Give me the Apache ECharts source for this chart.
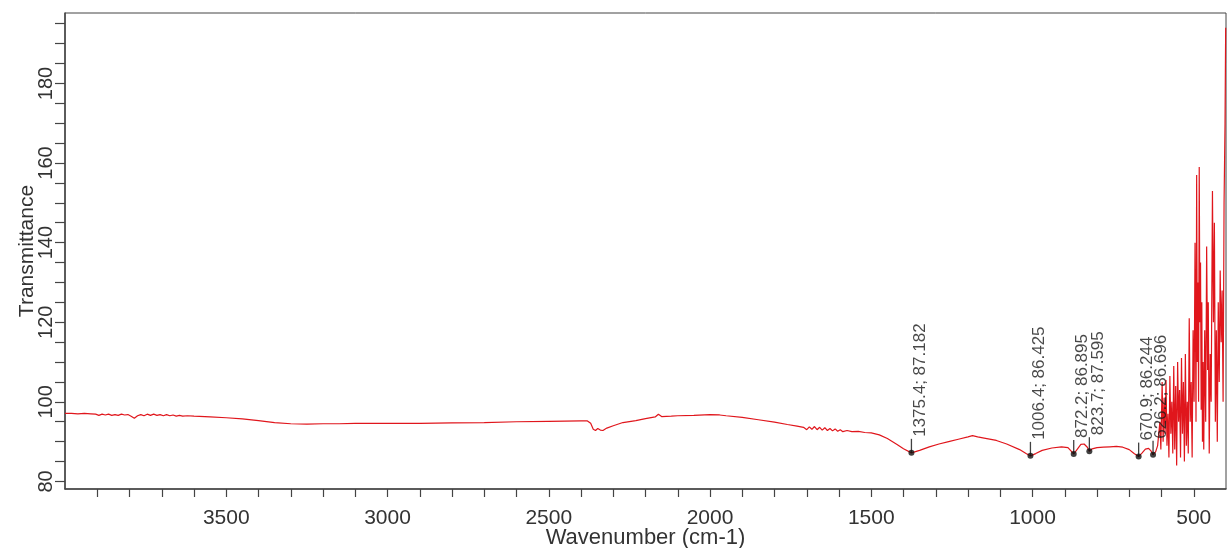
<!DOCTYPE html>
<html><head><meta charset="utf-8">
<script src="https://cdn.jsdelivr.net/npm/echarts@6/dist/echarts.min.js"></script>
<style>html,body{margin:0;padding:0;background:#fff}#c{width:1228px;height:548px}</style>
</head><body><div id="c"></div>
<script>
const wavenumbers = [
4000,3980,3960,3940,3920,3905,3895,3885,3875,3865,3855,3845,3835,3825,3815,3805,3795,3785,3775,3765,
3755,3745,3735,3725,3715,3705,3695,3685,3675,3665,3655,3645,3635,3620,3600,3550,3500,3450,3400,3350,
3300,3250,3200,3150,3100,3000,2900,2800,2700,2600,2500,2400,2380,2370,2362,2355,2348,2340,2332,2320,
2300,2270,2230,2200,2170,2160,2150,2120,2100,2050,2000,1970,1950,1900,1850,1800,1760,1730,1710,1700,
1692,1684,1676,1668,1660,1652,1644,1636,1628,1620,1612,1604,1596,1588,1575,1560,1540,1520,1500,1475,
1450,1420,1400,1375.4,1350,1320,1290,1260,1230,1200,1186,1170,1150,1112,1080,1040,1020,1006.4,990,970,
940,910,890,880,872.2,862,850,840,830,823.7,815,800,780,760,740,720,700,685,670.9,660,
650,640,632,626.2,618,612,
605,602,598,595,592,589,586,583,580,577,574,571,568,565,562,559,556,553,550,547,
544,541,538,535,532,529,526,523,520,517,514,511,508,505,502,499,496,493,491,489,
487,485,483,481,479,477,475,473,471,469,466,463,460,457,455,452,449,446,442,439,
436,433,430,427,424,421,418,415,412,409,406,403,401
];
const transmittance = [
97.1,97.1,97.0,97.1,97.0,96.9,96.6,96.9,96.7,96.9,96.6,96.8,96.6,96.9,96.7,96.8,96.4,95.9,96.5,96.8,
96.5,96.9,96.6,96.9,96.6,96.8,96.5,96.8,96.5,96.7,96.4,96.6,96.4,96.5,96.4,96.2,96.0,95.7,95.3,94.8,
94.5,94.4,94.5,94.5,94.6,94.6,94.6,94.7,94.8,95.0,95.1,95.2,95.2,94.6,93.1,92.8,93.3,92.9,92.8,93.4,
94.0,94.8,95.3,95.8,96.2,96.9,96.3,96.4,96.5,96.6,96.8,96.7,96.5,96.1,95.5,94.9,94.3,93.9,93.6,93.0,
93.7,93.1,93.8,93.0,93.6,92.9,93.5,92.8,93.3,92.7,93.2,92.6,93.0,92.5,92.8,92.5,92.6,92.3,92.2,91.7,
90.8,89.3,88.2,87.182,87.8,88.7,89.4,90.0,90.6,91.2,91.5,91.2,90.9,90.3,89.4,88.0,87.0,86.425,87.0,87.8,
88.4,88.7,88.5,87.6,86.895,88.0,89.3,89.4,88.6,87.595,88.2,88.5,88.6,88.7,88.8,88.6,88.0,87.0,86.244,87.2,
88.1,88.3,87.6,86.696,87.5,89.0,
95,88,105,90,101,92,105.5,89,97,86,106.5,92,100,87,109,88,104,84,110,95,
103,86,111,92,105,85,112,89,100,87,121,95,105,86,118,100,140,95,157,110,
130,100,159,120,135,98,125,90,110,88,118,95,139,108,125,87,112,100,153,120,
145,95,118,90,125,105,133,115,128,100,150,170,194
];
const peakWavenumbers = [1375.4, 1006.4, 872.2, 823.7, 670.9, 626.2];
const peakValues = [87.182, 86.425, 86.895, 87.595, 86.244, 86.696];
const xTickValues = [3900,3800,3700,3600,3500,3400,3300,3200,3100,3000,2900,2800,2700,2600,2500,2400,2300,2200,2100,2000,1900,1800,1700,1600,1500,1400,1300,1200,1100,1000,900,800,700,600,500];
const xLabelValues = [3500,3000,2500,2000,1500,1000,500];
const yTickValues = [80,85,90,95,100,105,110,115,120,125,130,135,140,145,150,155,160,165,170,175,180,185,190,195];
const yLabelValues = [80,100,120,140,160,180];

const FONT = '"Liberation Sans", Arial, sans-serif';
const spectrum = wavenumbers.map((w, i) => [w, transmittance[i]]);
const peaks = peakWavenumbers.map((w, i) => [w, peakValues[i]]);

const chart = echarts.init(document.getElementById('c'), null, {renderer: 'canvas'});
chart.setOption({
  animation: false,
  backgroundColor: '#fff',
  grid: {left: 65, right: 2, top: 13, bottom: 59, containLabel: false, outerBoundsMode: 'none',
         show: true, borderColor: '#444', borderWidth: 1, backgroundColor: 'transparent'},
  xAxis: {
    type: 'value', inverse: true, min: 400, max: 4000,
    name: 'Wavenumber (cm-1)', nameLocation: 'middle', nameGap: 38, nameMoveOverlap: false,
    nameTextStyle: {fontFamily: FONT, fontSize: 22, color: '#333'},
    axisLine: {show: true, lineStyle: {color: '#444', width: 1.5}},
    axisTick: {show: true, inside: false, length: 8, customValues: xTickValues, lineStyle: {color: '#444', width: 1.2}},
    axisLabel: {customValues: xLabelValues, margin: 19, fontFamily: FONT, fontSize: 21, color: '#333',
                formatter: v => String(v)},
    splitLine: {show: false}
  },
  yAxis: {
    type: 'value', min: 78.1, max: 197.7,
    name: 'Transmittance', nameLocation: 'middle', nameGap: 27, nameRotate: 90, nameMoveOverlap: false,
    nameTextStyle: {fontFamily: FONT, fontSize: 21, color: '#333'},
    axisLine: {show: true, lineStyle: {color: '#444', width: 1.5}},
    axisTick: {show: true, inside: false, length: 10, customValues: yTickValues, lineStyle: {color: '#444', width: 1.2}},
    axisLabel: {customValues: yLabelValues, rotate: 90, margin: 9, fontFamily: FONT, fontSize: 20, color: '#333',
                formatter: v => String(v)},
    splitLine: {show: false}
  },
  series: [
    {
      type: 'line', data: spectrum, showSymbol: false, symbol: 'none',
      lineStyle: {color: '#e0161c', width: 1.2}, z: 2
    },
    {
      type: 'scatter', data: peaks, symbol: 'rect', symbolSize: [1.3, 14], symbolOffset: [0, -7],
      itemStyle: {color: '#111'}, z: 3, silent: true
    },
    {
      type: 'scatter', data: peaks, symbol: 'circle', symbolSize: 6,
      itemStyle: {color: '#111'}, z: 4,
      label: {
        show: true, position: 'top', distance: 13, rotate: 90, align: 'left', verticalAlign: 'top',
        fontFamily: FONT, fontSize: 17, color: '#1a1a1a',
        formatter: p => p.value[0] + '; ' + p.value[1].toFixed(3)
      }
    }
  ]
});
</script>
</body></html>
